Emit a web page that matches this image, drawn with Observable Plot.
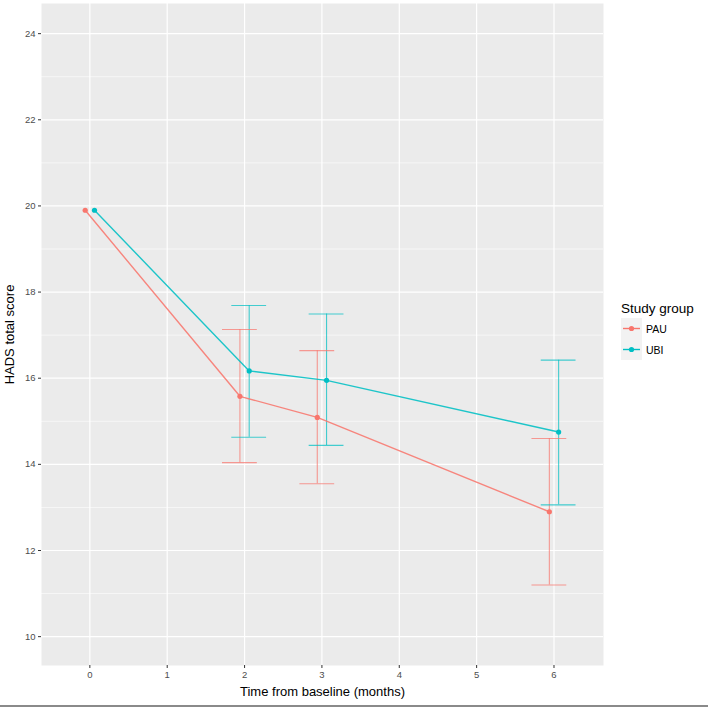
<!DOCTYPE html>
<html>
<head>
<meta charset="utf-8">
<script src="https://cdn.jsdelivr.net/npm/d3@7"></script>
<script src="https://cdn.jsdelivr.net/npm/@observablehq/plot@0.6"></script>
<style>
  html, body { margin: 0; padding: 0; background: #fff; }
  body { width: 708px; height: 708px; position: relative; overflow: hidden; font-family: "Liberation Sans", Arial, sans-serif; }
  #chart { position: absolute; left: 0; top: 0; }
  #legend { position: absolute; left: 621px; top: 301px; font-family: "Liberation Sans", Arial, sans-serif; }
  #legend .title { font-size: 13.5px; color: #000; margin-bottom: 2px; }
  #legend .row { display: flex; align-items: center; height: 21px; }
  #legend .row span { font-size: 10.5px; color: #000; margin-left: 4px; }
  #border { position: absolute; left: 0; top: 705px; width: 708px; height: 2px; background: #8a8a8a; }
</style>
</head>
<body>
<div id="chart"></div>
<div id="legend"></div>
<div id="border"></div>
<script>
const groups = ["PAU", "UBI"];
const groupColors = ["#F8766D", "#00BFC4"];
const months = [0, 2, 3, 6];
const pauMean = [19.9, 15.58, 15.09, 12.9];
const pauLow  = [null, 14.04, 13.55, 11.2];
const pauHigh = [null, 17.13, 16.64, 14.6];
const ubiMean = [19.9, 16.17, 15.95, 14.75];
const ubiLow  = [null, 14.63, 14.44, 13.06];
const ubiHigh = [null, 17.69, 17.49, 16.42];
const xTicks = [0, 1, 2, 3, 4, 5, 6];
const yMajor = [10, 12, 14, 16, 18, 20, 22, 24];
const yMinor = [11, 13, 15, 17, 19, 21, 23];

const dodge = 0.06;      // position dodge
const capHalf = 0.225;   // errorbar cap half-width

const rows = [];
months.forEach((m, i) => {
  rows.push({group: "PAU", month: m, x: m - dodge, mean: pauMean[i], low: pauLow[i], high: pauHigh[i]});
  rows.push({group: "UBI", month: m, x: m + dodge, mean: ubiMean[i], low: ubiLow[i], high: ubiHigh[i]});
});
const bars = rows.filter(d => d.low != null);

const plot = Plot.plot({
  width: 708,
  height: 708,
  marginLeft: 41,
  marginTop: 3,
  marginRight: 105,
  marginBottom: 43,
  style: {fontFamily: "Liberation Sans, Arial, sans-serif", background: "transparent"},
  x: {domain: [-0.625, 6.64]},
  y: {domain: [9.33, 24.7]},
  color: {domain: groups, range: groupColors},
  marks: [
    Plot.frame({fill: "#EBEBEB", stroke: null}),
    Plot.ruleY(yMinor, {stroke: "#fff", strokeWidth: 0.6}),
    Plot.ruleY(yMajor, {stroke: "#fff", strokeWidth: 1.2}),
    Plot.ruleX(xTicks, {stroke: "#fff", strokeWidth: 1.2}),
    Plot.axisY({ticks: yMajor, tickSize: 3, tickPadding: 3, fontSize: 9.5, color: "#4D4D4D", stroke: "#333",
      label: "HADS total score", labelAnchor: "center", labelArrow: "none", labelOffset: 37}),
    Plot.axisX({ticks: xTicks, tickSize: 3, tickPadding: 3, fontSize: 9.5, color: "#4D4D4D", stroke: "#333",
      tickFormat: d => String(d), label: "Time from baseline (months)", labelAnchor: "center", labelArrow: "none", labelOffset: 30}),
    Plot.ruleX(bars, {x: "x", y1: "low", y2: "high", stroke: "group", strokeWidth: 1.1, strokeOpacity: 0.72}),
    Plot.ruleY(bars, {y: "low", x1: d => d.x - capHalf, x2: d => d.x + capHalf, stroke: "group", strokeWidth: 1.1, strokeOpacity: 0.72}),
    Plot.ruleY(bars, {y: "high", x1: d => d.x - capHalf, x2: d => d.x + capHalf, stroke: "group", strokeWidth: 1.1, strokeOpacity: 0.72}),
    Plot.line(rows, {x: "x", y: "mean", stroke: "group", z: "group", strokeWidth: 1.4, strokeOpacity: 0.88}),
    Plot.dot(rows, {x: "x", y: "mean", fill: "group", r: 2.6, stroke: null})
  ]
});
plot.querySelectorAll("text").forEach(t => {
  if (t.textContent === "HADS total score" || t.textContent === "Time from baseline (months)") {
    t.setAttribute("font-size", "13");
    t.style.fontSize = "13px";
    t.setAttribute("fill", "#000");
    t.style.fill = "#000";
  }
});
document.getElementById("chart").appendChild(plot);

// legend
const leg = document.getElementById("legend");
const title = document.createElement("div");
title.className = "title";
title.textContent = "Study group";
leg.appendChild(title);
groups.forEach((g, i) => {
  const row = document.createElement("div");
  row.className = "row";
  row.innerHTML = `<svg width="21" height="21"><rect x="0" y="0" width="21" height="21" fill="#F2F2F2"/>
    <line x1="2" x2="19" y1="10.5" y2="10.5" stroke="${groupColors[i]}" stroke-width="1.4"/>
    <circle cx="10.5" cy="10.5" r="2.6" fill="${groupColors[i]}"/></svg><span>${g}</span>`;
  leg.appendChild(row);
});
</script>
</body>
</html>
